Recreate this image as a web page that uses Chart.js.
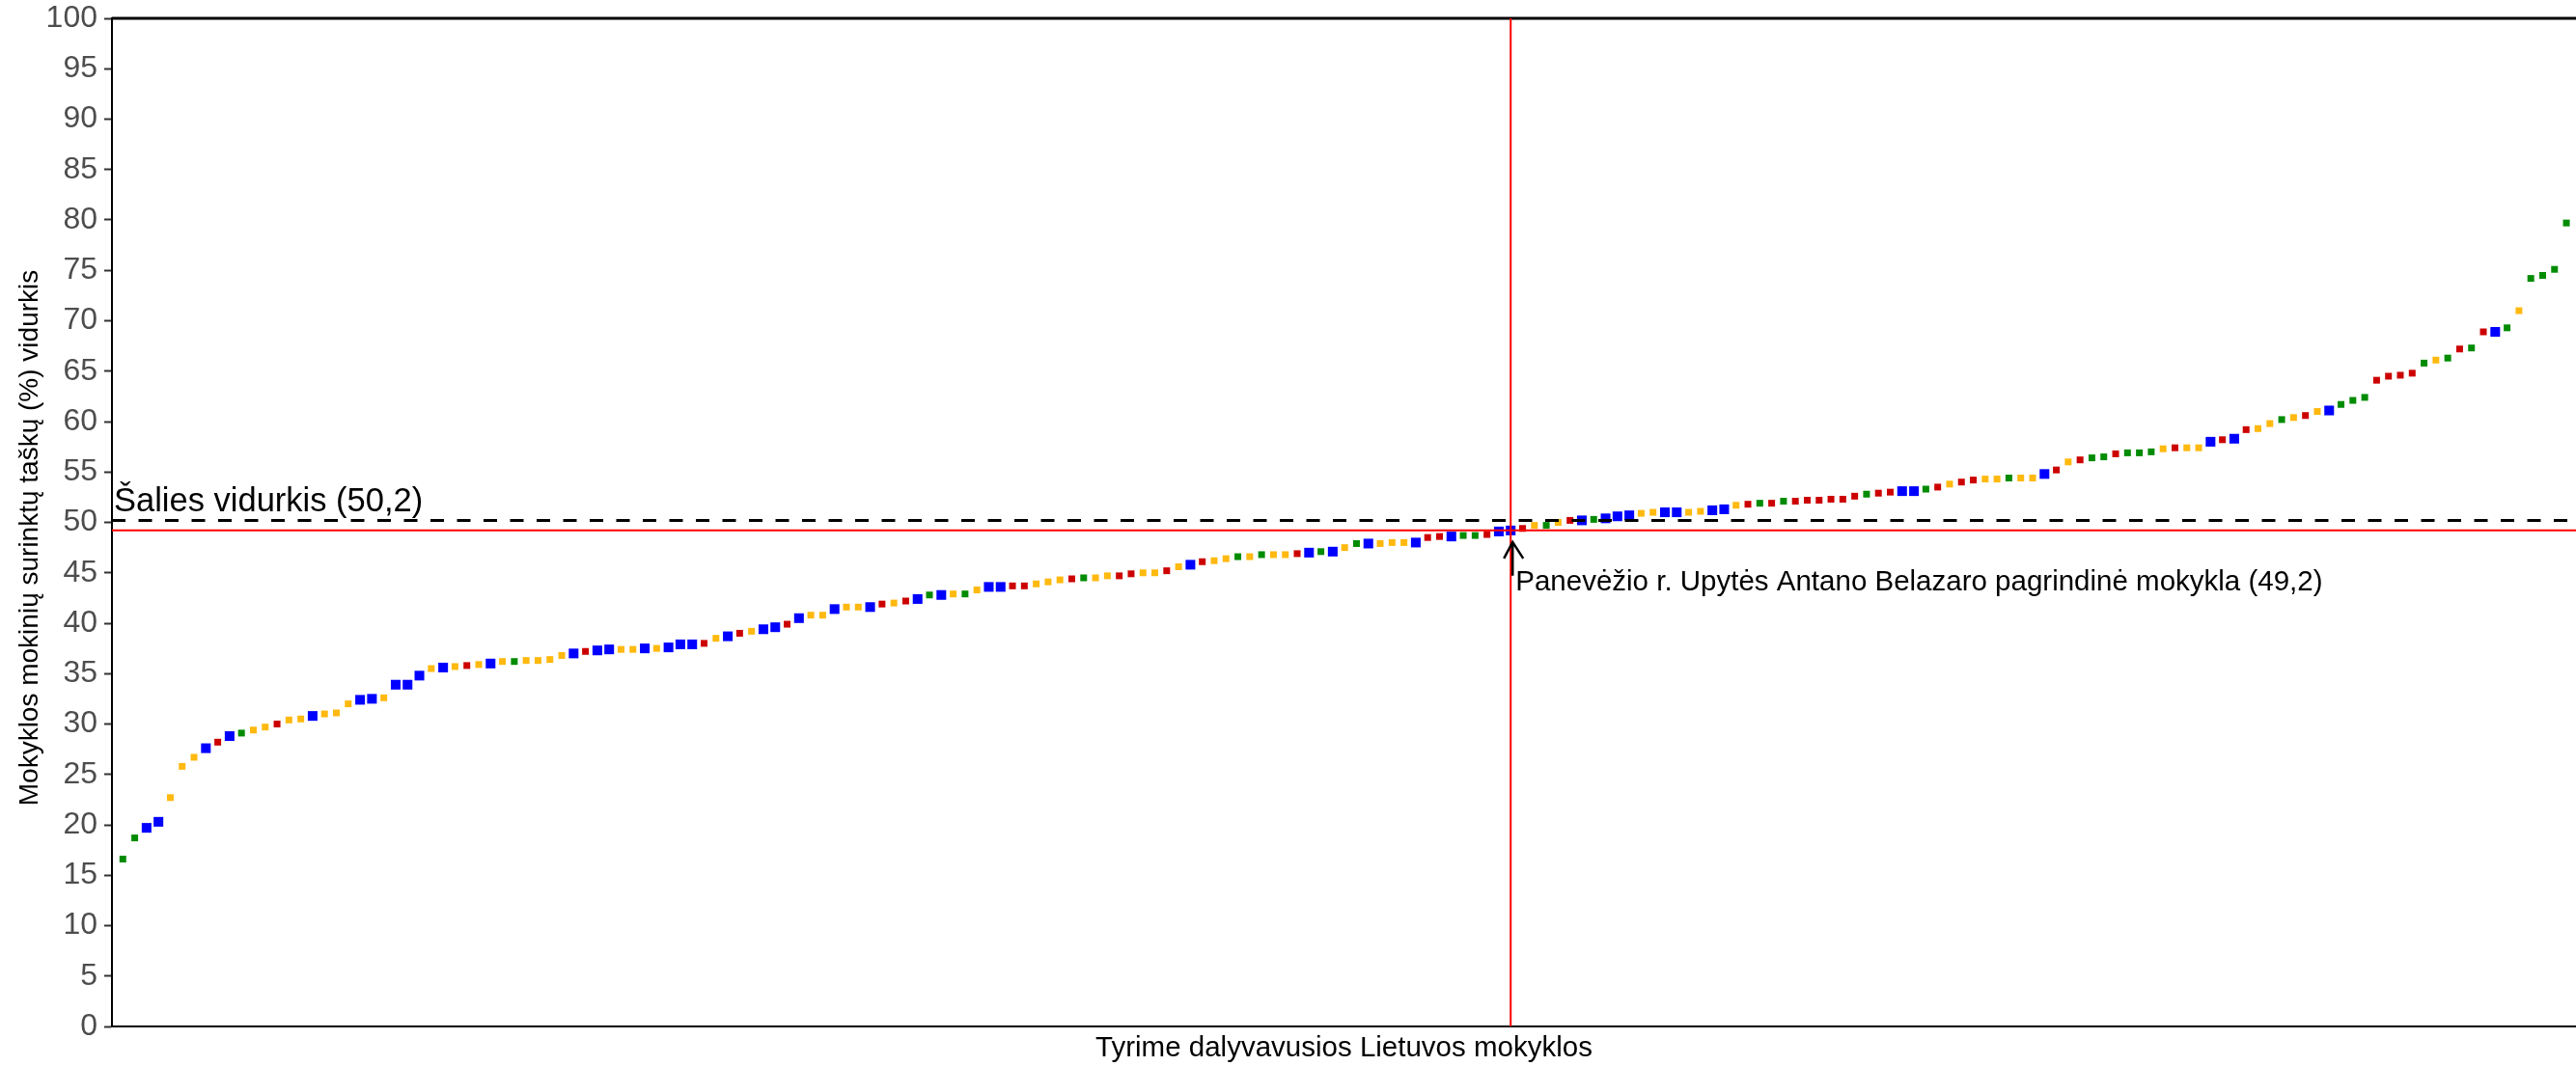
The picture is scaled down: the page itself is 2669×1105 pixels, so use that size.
<!DOCTYPE html>
<html lang="lt">
<head>
  <meta charset="UTF-8">
  <title>Mokyklų vidurkiai</title>
  <script src="https://cdn.jsdelivr.net/npm/chart.js"></script>
  <style>
    html, body { margin: 0; padding: 0; background: #fff; }
    canvas { display: block; }
  </style>
</head>
<body>
  <canvas id="schoolChart" width="2669" height="1105"></canvas>

  <script>
    // school averages (%), lowest to highest
    const scores = [
      16.6, 18.7, 19.7, 20.3, 22.7, 25.8, 26.7, 27.6, 28.2, 28.8,
      29.1, 29.4, 29.7, 30.0, 30.4, 30.5, 30.8, 31.0, 31.1, 32.0,
      32.4, 32.5, 32.6, 33.9, 33.9, 34.8, 35.5, 35.6, 35.7, 35.8,
      35.9, 36.0, 36.2, 36.2, 36.3, 36.3, 36.4, 36.8, 37.0, 37.2,
      37.3, 37.4, 37.4, 37.4, 37.5, 37.5, 37.6, 37.9, 37.9, 38.0,
      38.5, 38.7, 39.0, 39.2, 39.4, 39.6, 39.9, 40.5, 40.8, 40.8,
      41.4, 41.6, 41.6, 41.6, 41.9, 42.0, 42.2, 42.4, 42.8, 42.8,
      42.9, 42.9, 43.3, 43.6, 43.6, 43.7, 43.7, 43.9, 44.1, 44.3,
      44.4, 44.5, 44.5, 44.7, 44.7, 44.9, 45.0, 45.0, 45.2, 45.6,
      45.8, 46.1, 46.2, 46.4, 46.6, 46.6, 46.8, 46.8, 46.8, 46.9,
      47.0, 47.1, 47.1, 47.5, 47.9, 47.9, 47.9, 48.0, 48.0, 48.0,
      48.5, 48.6, 48.6, 48.7, 48.7, 48.8, 49.1, 49.2, 49.4, 49.7,
      49.7, 50.0, 50.2, 50.2, 50.3, 50.4, 50.6, 50.7, 50.9, 51.0,
      51.0, 51.0, 51.0, 51.1, 51.2, 51.3, 51.7, 51.8, 51.9, 51.9,
      52.1, 52.1, 52.2, 52.2, 52.3, 52.3, 52.6, 52.8, 52.9, 53.0,
      53.1, 53.1, 53.3, 53.5, 53.8, 54.0, 54.2, 54.3, 54.3, 54.4,
      54.4, 54.4, 54.8, 55.2, 56.0, 56.2, 56.4, 56.5, 56.8, 56.9,
      56.9, 57.0, 57.3, 57.4, 57.4, 57.4, 58.0, 58.2, 58.3, 59.2,
      59.3, 59.8, 60.2, 60.4, 60.6, 61.0, 61.1, 61.7, 62.1, 62.4,
      64.1, 64.5, 64.6, 64.8, 65.8, 66.1, 66.3, 67.2, 67.3, 68.9,
      68.9, 69.3, 71.0, 74.2, 74.5, 75.1, 79.7
    ];

    // colour group of each school, ten per row (g green, b blue, o orange, r red)
    const groupRows = [
      'ggbbooobrb', 'gooroobooo', 'bbobbbobor', 'obogoooobr', 'bboobobbbr',
      'obrobbrboo', 'boobrorbgb', 'ogobbrrooo', 'rgoorrooro', 'broogogoor',
      'bgbogbooob', 'rrbggrbbro', 'gorbgbbboo', 'bboobborgr', 'grrrrrrgrr',
      'bbgrorroog', 'oobrorggrg', 'ggoroobrbr', 'oogorobggg', 'rrrrgogrgr',
      'bgogggg'
    ];
    const groups = groupRows.join('').split('');

    const countryAvg = 50.2;
    const schoolAvg = 49.2;
    const schoolRank = 118;
    const schoolName = 'Panevėžio r. Upytės Antano Belazaro pagrindinė mokykla';
    const yTitle = 'Mokyklos mokinių surinktų taškų (%) vidurkis';
    const yTicks = [0, 5, 10, 15, 20, 25, 30, 35, 40, 45, 50, 55, 60, 65, 70, 75, 80, 85, 90, 95, 100];

    const palette = { g: '#008B00', b: '#0000FF', o: '#FFB90F', r: '#CD0000' };
    const fmt = v => v.toFixed(1).replace('.', ',');
    const FONT = "'Liberation Sans', Arial, sans-serif";

    Chart.defaults.font.family = FONT;

    // reference lines, arrow and labels
    const refLines = {
      id: 'refLines',
      afterDatasetsDraw(chart) {
        const { ctx, chartArea: a, scales: { x, y } } = chart;
        const px = x.getPixelForValue(schoolRank);
        const pyCountry = y.getPixelForValue(countryAvg);
        const pySchool = y.getPixelForValue(schoolAvg);
        ctx.save();

        // top frame
        ctx.strokeStyle = '#000';
        ctx.lineWidth = 3;
        ctx.beginPath();
        ctx.moveTo(a.left, a.top);
        ctx.lineTo(a.right, a.top);
        ctx.stroke();

        // school lines
        ctx.strokeStyle = '#FF0000';
        ctx.lineWidth = 2;
        ctx.beginPath();
        ctx.moveTo(px, a.top);
        ctx.lineTo(px, a.bottom);
        ctx.moveTo(a.left, pySchool);
        ctx.lineTo(a.right, pySchool);
        ctx.stroke();

        // country average
        ctx.strokeStyle = '#000';
        ctx.lineWidth = 3;
        ctx.setLineDash([14, 13.5]);
        ctx.beginPath();
        ctx.moveTo(a.left, pyCountry);
        ctx.lineTo(a.right, pyCountry);
        ctx.stroke();
        ctx.setLineDash([]);

        // arrow to the school
        const ax = px + 2;
        const tip = pySchool + 12;
        ctx.lineWidth = 2.5;
        ctx.beginPath();
        ctx.moveTo(ax, tip + 35);
        ctx.lineTo(ax, tip);
        ctx.moveTo(ax - 9, tip + 17);
        ctx.lineTo(ax, tip);
        ctx.lineTo(ax + 11, tip + 17);
        ctx.stroke();

        ctx.fillStyle = '#000';
        ctx.textAlign = 'left';
        ctx.textBaseline = 'alphabetic';
        ctx.font = '34.5px ' + FONT;
        ctx.fillText('Šalies vidurkis (' + fmt(countryAvg) + ')', a.left + 2, pyCountry - 9);
        ctx.font = '29.5px ' + FONT;
        ctx.fillText(schoolName + ' (' + fmt(schoolAvg) + ')', ax + 3, tip + 50);

        // y axis title, a little below the panel centre as in the original
        ctx.font = '28px ' + FONT;
        ctx.textAlign = 'center';
        ctx.textBaseline = 'middle';
        ctx.translate(31, (a.top + a.bottom) / 2 + 16);
        ctx.rotate(-Math.PI / 2);
        ctx.fillText(yTitle, 0, 0);
        ctx.restore();
      }
    };

    const ctx = document.getElementById('schoolChart').getContext('2d');
    new Chart(ctx, {
      type: 'scatter',
      data: {
        datasets: [{
          data: scores.map((v, i) => ({ x: i + 1, y: v })),
          pointStyle: 'rect',
          backgroundColor: c => palette[groups[c.dataIndex]],
          borderWidth: 0,
          pointRadius: c => groups[c.dataIndex] === 'b' ? 7.1 : 4.95,
          pointHoverRadius: c => groups[c.dataIndex] === 'b' ? 7.1 : 4.95
        }]
      },
      options: {
        responsive: false,
        devicePixelRatio: 1,
        animation: false,
        layout: { autoPadding: false, padding: { top: 19, left: 0, right: 0, bottom: 0 } },
        plugins: { legend: { display: false }, tooltip: { enabled: false } },
        scales: {
          x: {
            type: 'linear',
            min: 0.081,
            max: 207.81,
            ticks: { display: false },
            grid: { display: false, drawTicks: false },
            border: { color: '#000', width: 2 },
            title: {
              display: true,
              text: 'Tyrime dalyvavusios Lietuvos mokyklos',
              color: '#000',
              font: { size: 29.5 },
              padding: 0
            },
            afterFit: s => { s.height = 41; s.paddingLeft = 0; s.paddingRight = 0; }
          },
          y: {
            min: 0,
            max: 100,
            afterBuildTicks: s => { s.ticks = yTicks.map(v => ({ value: v })); },
            ticks: { color: '#4D4D4D', font: { size: 32 }, padding: 7, autoSkip: false },
            grid: { drawOnChartArea: false, drawTicks: true, tickLength: 8, tickWidth: 2, tickColor: '#333' },
            border: { color: '#000', width: 2 },
            title: { display: false },
            afterFit: s => { s.width = 116; s.paddingTop = 0; s.paddingBottom = 0; }
          }
        }
      },
      plugins: [refLines]
    });
  </script>
</body>
</html>
